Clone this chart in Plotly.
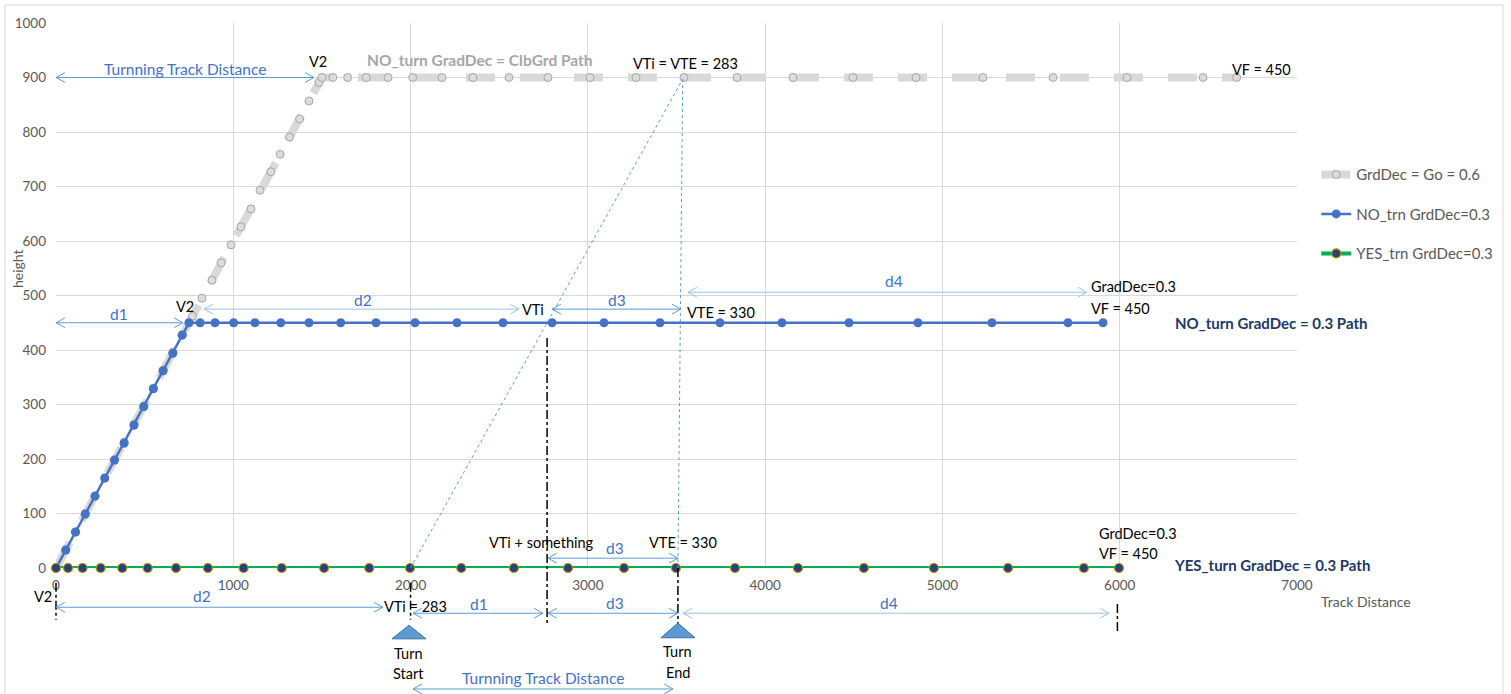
import plotly.graph_objects as go

# ---- profile data (track distance, height) ----
go_dist = [0, 55, 110, 165, 220, 275, 330, 385, 440, 495, 550, 605, 660, 715, 770,
           823, 880, 931, 987, 1043, 1100, 1151, 1212, 1264, 1318, 1374, 1427, 1483, 1500,
           1562, 1645, 1750, 1873, 2012, 2177, 2352, 2555, 2775, 3012, 3272, 3542,
           3841, 4157, 4495, 4851, 5229, 5624, 6041, 6470, 6660]
go_height = [0, 33, 66, 99, 132, 165, 198, 231, 264, 297, 330, 363, 396, 429, 462,
             495, 528, 560, 593, 626, 659, 693, 727, 759, 791, 824, 857, 891, 900,
             900, 900, 900, 900, 900, 900, 900, 900, 900, 900, 900, 900,
             900, 900, 900, 900, 900, 900, 900, 900, 900]

no_trn_dist = [0, 55, 110, 165, 220, 275, 330, 384, 440, 495, 549, 604, 659, 711, 750,
               813, 897, 1002, 1122, 1268, 1427, 1606, 1805, 2025, 2262, 2521, 2798,
               3091, 3407, 3745, 4095, 4473, 4862, 5279, 5708, 5906]
no_trn_height = [0, 33, 66, 99, 132, 165, 198, 229, 262, 296, 329, 362, 394, 427, 450,
                 450, 450, 450, 450, 450, 450, 450, 450, 450, 450, 450, 450,
                 450, 450, 450, 450, 450, 450, 450, 450, 450]

yes_trn_dist = [0, 68, 150, 252, 374, 517, 677, 857, 1058, 1273, 1512, 1767, 1997,
                2286, 2583, 2888, 3204, 3497, 3830, 4185, 4557, 4952, 5370, 5798, 5996]
yes_trn_height = [0] * len(yes_trn_dist)

x_ticks = [0, 1000, 2000, 3000, 4000, 5000, 6000, 7000]
y_ticks = [0, 100, 200, 300, 400, 500, 600, 700, 800, 900, 1000]
X_MAX, Y_MAX = 7000, 1000

FONT = "Lato"
GREY_TXT = "#595959"
BLUE_TXT = "#4472C4"
ARROW_BLUE = "#5B9BD5"
ARROW_LIGHT = "#9DC3E6"
NAVY = "#203864"
TXT = 14.5      # black callouts
BTXT = 15.5     # blue distance callouts

fig = go.Figure()

fig.add_trace(go.Scatter(
    x=go_dist, y=go_height, name="GrdDec = Go = 0.6", mode="lines+markers",
    line=dict(color="#D9D9D9", width=8, dash="29px,25px"),
    marker=dict(symbol="circle", size=8, color="#DCDCDC",
                line=dict(color="#A6A6A6", width=1)),
    cliponaxis=False, legendgroup="a"))

fig.add_trace(go.Scatter(
    x=no_trn_dist, y=no_trn_height, name="NO_trn GrdDec=0.3", mode="lines+markers",
    line=dict(color="#4472C4", width=2.5),
    marker=dict(symbol="circle", size=9, color="#4472C4"),
    cliponaxis=False, legendgroup="b"))

fig.add_trace(go.Scatter(
    x=yes_trn_dist, y=yes_trn_height, name="YES_trn GrdDec=0.3", mode="lines+markers",
    line=dict(color="#00B050", width=4),
    marker=dict(symbol="circle", size=9, color="#264478",
                line=dict(color="#BF9000", width=1.2)),
    cliponaxis=False, legendgroup="c"))


def X(v):
    return v / X_MAX


def Y(v):
    return v / Y_MAX


shapes = []
annotations = []

CHEV_DX = 50   # chevron length in track-distance units
CHEV_DY = 9    # chevron half-height in height units


def arrow(x0, x1, y, color):
    shapes.append(dict(type="line", xref="paper", yref="paper",
                       x0=X(x0), x1=X(x1), y0=Y(y), y1=Y(y),
                       line=dict(color=color, width=1)))
    for tip, sgn in ((x0, 1), (x1, -1)):
        path = (f"M {X(tip + sgn * CHEV_DX)},{Y(y + CHEV_DY)} "
                f"L {X(tip)},{Y(y)} L {X(tip + sgn * CHEV_DX)},{Y(y - CHEV_DY)}")
        shapes.append(dict(type="path", xref="paper", yref="paper", path=path,
                           line=dict(color=color, width=1)))


def vline(x, y0, y1, color="black", dash="dashdot", width=1.5, x1=None):
    shapes.append(dict(type="line", xref="paper", yref="paper",
                       x0=X(x), x1=X(x if x1 is None else x1), y0=Y(y0), y1=Y(y1),
                       line=dict(color=color, width=width, dash=dash)))


def label(x, y, text, color="black", size=TXT, bold=False, xanchor="center"):
    if bold:
        text = f"<b>{text}</b>"
    annotations.append(dict(xref="paper", yref="paper", x=X(x), y=Y(y), text=text,
                            showarrow=False, xanchor=xanchor, yanchor="middle",
                            font=dict(family=FONT, size=size, color=color)))


def blue(x, y, text):
    label(x, y, text, BLUE_TXT, size=BTXT)


def triangle(xc, y_top, y_bot, half_w):
    path = (f"M {X(xc - half_w)},{Y(y_bot)} L {X(xc)},{Y(y_top)} "
            f"L {X(xc + half_w)},{Y(y_bot)} Z")
    shapes.append(dict(type="path", xref="paper", yref="paper", path=path,
                       fillcolor="#5B9BD5", line=dict(color="#41719C", width=1)))


# top: climb-gradient path
arrow(0, 1455, 900, ARROW_BLUE)
blue(728, 916, "Turnning Track Distance")
label(1478, 930, "V2")
label(2392, 932, "NO_turn GradDec = ClbGrd Path", "#A6A6A6", size=15.5, bold=True)
label(3548, 925, "VTi = VTE = 283")
label(6797, 915, "VF = 450")

# turn geometry guides
vline(2000, 0, 897, ARROW_BLUE, "dot", 1, x1=3535)
vline(3535, 897, 0, ARROW_BLUE, "dot", 1, x1=3508)
vline(2770, 422, -105)
vline(3508, 0, -105)
vline(0, -27, -95)
vline(2000, -27, -95)
vline(5987, -66, -119)

# NO_turn 0.3 path
arrow(0, 716, 450, ARROW_BLUE)
blue(355, 466, "d1")
label(728, 479, "V2")
arrow(835, 2612, 475, ARROW_LIGHT)
blue(1731, 492, "d2")
label(2691, 475, "VTi")
arrow(2798, 3525, 475, ARROW_BLUE)
blue(3165, 492, "d3")
label(3751, 468, "VTE = 330")
arrow(3565, 5815, 506, ARROW_LIGHT)
blue(4727, 527, "d4")
label(5827, 517, "GradDec=0.3", xanchor="left")
label(5827, 477, "VF = 450", xanchor="left")
label(6300, 450, "NO_turn GradDec = 0.3 Path", NAVY, size=15, bold=True, xanchor="left")

# YES_turn 0.3 path
label(2736, 46, "VTi + something")
arrow(2775, 3508, 18, ARROW_BLUE)
blue(3153, 37, "d3")
label(3537, 46, "VTE = 330")
label(5872, 64, "GrdDec=0.3", xanchor="left")
label(5872, 26, "VF = 450", xanchor="left")
label(6295, 6, "YES_turn GradDec = 0.3 Path", NAVY, size=15, bold=True, xanchor="left")

# below the axis
label(-73, -53, "V2")
arrow(0, 1844, -72, ARROW_BLUE)
blue(823, -51, "d2")
label(2030, -70, "VTi = 283")
arrow(2014, 2747, -83, ARROW_BLUE)
blue(2386, -66, "d1")
arrow(2775, 3508, -83, ARROW_BLUE)
blue(3153, -64, "d3")
arrow(3537, 5940, -83, ARROW_LIGHT)
blue(4699, -64, "d4")

triangle(1991, -105, -130, 96)
triangle(3508, -101, -128, 96)
label(1991, -156, "Turn")
label(1991, -193, "Start")
label(3508, -153, "Turn")
label(3508, -191, "End")
arrow(2014, 3480, -222, ARROW_BLUE)
blue(2747, -202, "Turnning Track Distance")

# axis titles
label(7389, -61, "Track Distance", GREY_TXT, size=14)
annotations.append(dict(xref="paper", yref="paper", x=-0.0314, y=0.5486, text="height",
                        textangle=-90, showarrow=False, xanchor="center", yanchor="middle",
                        font=dict(family=FONT, size=14, color=GREY_TXT)))

# chart frame
shapes.append(dict(type="rect", xref="paper", yref="paper",
                   x0=-0.0411, x1=1.1660, y0=-0.25, y1=1.033,
                   line=dict(color="#D9D9D9", width=1), fillcolor="rgba(0,0,0,0)",
                   layer="below"))

fig.update_layout(
    width=1511, height=694,
    margin=dict(l=56, r=214, t=23, b=126),
    paper_bgcolor="white", plot_bgcolor="white",
    font=dict(family=FONT, size=13, color=GREY_TXT),
    xaxis=dict(range=[0, X_MAX], tickvals=x_ticks, showgrid=True, gridcolor="#D9D9D9",
               gridwidth=1, zeroline=False, showline=False, ticks="",
               ticklabelstandoff=7,
               tickfont=dict(family=FONT, size=13.5, color=GREY_TXT)),
    yaxis=dict(range=[0, Y_MAX], tickvals=y_ticks, showgrid=True, gridcolor="#D9D9D9",
               gridwidth=1, zeroline=False, showline=False, ticks="",
               ticklabelstandoff=9,
               tickfont=dict(family=FONT, size=13.5, color=GREY_TXT)),
    legend=dict(x=1.0155, y=0.752, xanchor="left", yanchor="top",
                font=dict(family=FONT, size=15, color=GREY_TXT),
                tracegroupgap=17, bgcolor="rgba(0,0,0,0)"),
    shapes=shapes,
    annotations=annotations,
)

fig.write_html("out.html")
